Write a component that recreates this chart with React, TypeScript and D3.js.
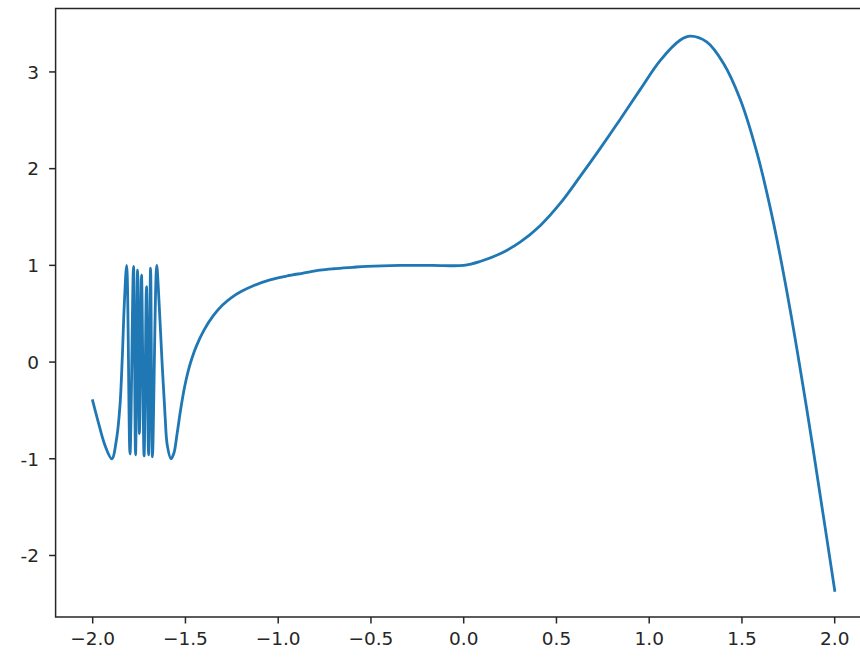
import React from "react";
import * as d3 from "d3";

const xValues = [
  -2.0, -1.97, -1.934, -1.897, -1.871, -1.853, -1.84, -1.83, -1.817,
  -1.799, -1.78, -1.769, -1.758, -1.748, -1.737, -1.723, -1.71, -1.699, -1.688, -1.678, -1.655,
  -1.646, -1.628, -1.61, -1.598, -1.578, -1.562, -1.545, -1.525, -1.505, -1.485, -1.465, -1.44,
  -1.4, -1.35, -1.3, -1.25, -1.2, -1.134, -1.044, -0.954, -0.865, -0.775, -0.703, -0.6, -0.523,
  -0.343, -0.165, 0.0, 0.088, 0.196, 0.304, 0.412, 0.52, 0.628, 0.736, 0.844, 0.952, 1.06,
  1.168, 1.222, 1.31, 1.4, 1.49, 1.58, 1.669, 1.759, 1.849, 1.938, 2.0,
];
const yValues = [
  -0.4, -0.62, -0.86, -1.0, -0.79, -0.45, 0.07, 0.58, 1.0,
  -0.95, 0.99, -0.96, 0.95, -0.74, 0.9, -0.97, 0.78, -0.96, 0.97, -0.98, 1.0,
  0.76, 0.07, -0.55, -0.86, -1.0, -0.94, -0.74, -0.48, -0.26, -0.09, 0.04, 0.17,
  0.33, 0.48, 0.59, 0.67, 0.73, 0.79, 0.85, 0.89, 0.92, 0.95, 0.965, 0.98, 0.99,
  1.0, 1.0, 1.0, 1.04, 1.12, 1.24, 1.41, 1.64, 1.92, 2.21, 2.51, 2.82, 3.12,
  3.33, 3.37, 3.31, 3.09, 2.72, 2.17, 1.45, 0.55, -0.48, -1.58, -2.36,
];
const xTicks = [-2.0, -1.5, -1.0, -0.5, 0.0, 0.5, 1.0, 1.5, 2.0];
const xTickLabels = ["−2.0", "−1.5", "−1.0", "−0.5", "0.0", "0.5", "1.0", "1.5", "2.0"];
const yTicks = [-2, -1, 0, 1, 2, 3];
const yTickLabels = ["-2", "-1", "0", "1", "2", "3"];

const W = 860;
const H = 657;
const FONT = "DejaVu Sans, sans-serif";

export default function App() {
  const x = d3.scaleLinear().domain([-2, 2]).range([92.7, 834.7]);
  const y = d3.scaleLinear().domain([-2.636, 3.656]).range([617, 8.5]);
  const left = x(-2.2);
  const right = x(2.2);
  const top = y(3.656);
  const bottom = y(-2.636);
  const pts: [number, number][] = xValues.map((v, i) => [v, yValues[i]]);
  const line = d3
    .line<[number, number]>()
    .x((d) => x(d[0]))
    .y((d) => y(d[1]))
    .curve(d3.curveCatmullRom.alpha(0.5));
  const tickLen = 6.5;
  return (
    <svg
      width={W}
      height={H}
      style={{ position: "absolute", left: 0, top: 0, background: "#fff" }}
    >
      <rect x={0} y={0} width={W} height={H} fill="#fff" />
      <path d={line(pts) || ""} fill="none" stroke="#1f77b4" strokeWidth={2.8} strokeLinejoin="round" strokeLinecap="square" />
      <rect x={left} y={top} width={right - left} height={bottom - top} fill="none" stroke="#262626" strokeWidth={1.5} />
      {xTicks.map((t, i) => (
        <g key={"x" + i}>
          <line x1={x(t)} x2={x(t)} y1={bottom} y2={bottom + tickLen} stroke="#262626" strokeWidth={1.5} />
          <text x={x(t)} y={645} textAnchor="middle" fontFamily={FONT} fontSize={18.5} fill="#262626">
            {xTickLabels[i]}
          </text>
        </g>
      ))}
      {yTicks.map((t, i) => (
        <g key={"y" + i}>
          <line x1={left - tickLen} x2={left} y1={y(t)} y2={y(t)} stroke="#262626" strokeWidth={1.5} />
          <text x={39} y={y(t) + 6.8} textAnchor="end" fontFamily={FONT} fontSize={18.5} fill="#262626">
            {yTickLabels[i]}
          </text>
        </g>
      ))}
    </svg>
  );
}
